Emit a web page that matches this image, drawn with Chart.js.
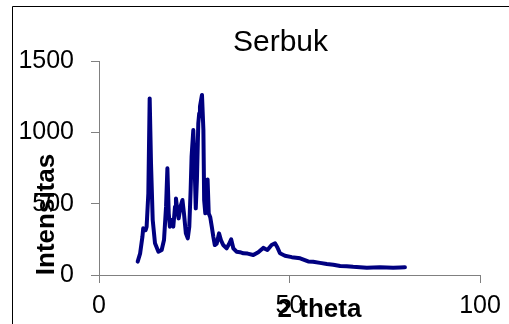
<!DOCTYPE html>
<html>
<head>
<meta charset="utf-8">
<script src="https://cdn.jsdelivr.net/npm/chart.js@4/dist/chart.umd.min.js"></script>
<style>
  html, body { margin: 0; padding: 0; background: #fff; }
  #wrap { position: relative; width: 509px; height: 324px; }
</style>
</head>
<body>
<div id="wrap"><canvas id="c" width="509" height="324"></canvas></div>
<script>
const chartTitle = "Serbuk";
const xTitle = "2 theta";
const yTitle = "Intensitas";
const xTicks = [0, 50, 100];
const yTicks = [0, 500, 1000, 1500];

const twoTheta = [10.15, 10.8, 11.4, 11.6, 12.0, 12.25, 12.5, 12.95, 13.3, 13.65, 14.1, 14.7, 15.6, 16.45, 17.06, 17.6, 17.95, 18.3, 18.6, 19.1, 19.5, 19.95, 20.2, 20.55, 20.9, 21.4, 21.9, 22.3, 22.8, 23.3, 23.7, 24.05, 24.3, 24.75, 25.1, 25.4, 25.7, 26.06, 26.3, 26.5, 27.03, 27.4, 27.6, 27.9, 28.3, 28.5, 28.8, 29.2, 29.6, 30.0, 30.4, 30.9, 31.5, 32.0, 32.6, 33.5, 34.1, 34.7, 35.25, 36.1, 37.0, 37.9, 39.0, 40.5, 41.8, 43.1, 44.2, 45.3, 46.2, 46.8, 47.5, 48.8, 50.6, 52.8, 54.9, 56.2, 58.0, 59.8, 61.5, 63.3, 65.0, 66.7, 68.5, 70.3, 72.0, 73.75, 75.5, 77.2, 79.0, 80.3];
const intensity = [94, 152, 269, 327, 320, 315, 339, 573, 1238, 783, 385, 222, 163, 175, 245, 479, 748, 432, 339, 385, 339, 479, 537, 456, 397, 479, 526, 432, 292, 257, 339, 596, 829, 1016, 759, 467, 666, 1063, 1133, 1180, 1262, 1016, 526, 432, 573, 670, 432, 405, 339, 269, 210, 220, 292, 245, 210, 187, 215, 250, 187, 163, 160, 152, 150, 140, 160, 190, 175, 210, 222, 195, 152, 135, 125, 117, 95, 93, 85, 77, 72, 63, 62, 58, 55, 51, 53, 54, 52, 51, 53, 54];

const points = twoTheta.map((t, i) => ({ x: t, y: intensity[i] }));

const FONT = "'Liberation Sans', Arial, sans-serif";

const decor = {
  id: 'decor',
  afterDraw(chart) {
    const ctx = chart.ctx;
    ctx.save();
    ctx.strokeStyle = '#000';
    ctx.lineWidth = 1;
    ctx.beginPath();
    ctx.moveTo(12.5, 330);
    ctx.lineTo(12.5, 6.5);
    ctx.lineTo(520, 6.5);
    ctx.stroke();
    ctx.fillStyle = '#000';
    ctx.font = "30px " + FONT;
    ctx.textAlign = 'center';
    ctx.textBaseline = 'alphabetic';
    ctx.fillText(chartTitle, 280.5, 51);
    ctx.font = "bold 26px " + FONT;
    ctx.fillText(xTitle, 319.5, 317);
    ctx.translate(53.5, 214.5);
    ctx.rotate(-Math.PI / 2);
    ctx.fillText(yTitle, 0, 0);
    ctx.restore();
  }
};

new Chart(document.getElementById('c'), {
  type: 'line',
  data: {
    datasets: [{
      data: points,
      borderColor: '#000080',
      borderWidth: 4,
      borderJoinStyle: 'round',
      borderCapStyle: 'round',
      pointRadius: 0,
      tension: 0,
      fill: false
    }]
  },
  options: {
    responsive: false,
    animation: false,
    devicePixelRatio: 1,
    layout: { padding: { left: 0, right: 29, top: 61, bottom: 0 } },
    plugins: { legend: { display: false }, title: { display: false }, tooltip: { enabled: false } },
    scales: {
      x: {
        type: 'linear',
        min: 0, max: 100,
        afterBuildTicks: s => { s.ticks = xTicks.map(v => ({ value: v })); },
        afterFit: s => { s.height = 49; },
        grid: { drawOnChartArea: false, drawTicks: true, tickLength: 8, color: '#808080', lineWidth: 1 },
        border: { display: true, color: '#808080', width: 1 },
        ticks: { color: '#000', font: { family: FONT, size: 25 }, padding: 8, maxRotation: 0, callback: v => String(v) }
      },
      y: {
        type: 'linear',
        min: 0, max: 1500,
        afterBuildTicks: s => { s.ticks = yTicks.map(v => ({ value: v })); },
        afterFit: s => { s.width = 99; },
        grid: { drawOnChartArea: false, drawTicks: true, tickLength: 8, color: '#808080', lineWidth: 1 },
        border: { display: true, color: '#808080', width: 1 },
        ticks: { color: '#000', font: { family: FONT, size: 25 }, padding: 17, callback: v => String(v) }
      }
    }
  },
  plugins: [decor]
});
</script>
</body>
</html>
